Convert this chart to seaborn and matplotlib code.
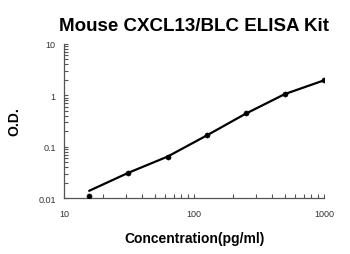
import matplotlib
matplotlib.use("Agg")
import matplotlib.pyplot as plt
from matplotlib.ticker import LogLocator, NullFormatter, FixedLocator, FixedFormatter
import seaborn as sns
import pandas as pd

concentration = [15.6, 31.25, 62.5, 125, 250, 500, 1000]
od = [0.011, 0.031, 0.063, 0.168, 0.45, 1.05, 1.98]
fit_od = [0.0138, 0.031, 0.064, 0.165, 0.44, 1.06, 1.96]

x_ticks = [10, 100, 1000]
x_tick_labels = ["10", "100", "1000"]
y_ticks = [0.01, 0.1, 1, 10]
y_tick_labels = ["0.01", "0.1", "1", "10"]

title = "Mouse CXCL13/BLC ELISA Kit"
xlabel = "Concentration(pg/ml)"
ylabel = "O.D."

sns.set_style("white")
plt.rcParams['font.family'] = ['Liberation Sans', 'DejaVu Sans']

df = pd.DataFrame({"conc": concentration, "od": od, "fit": fit_od})

fig = plt.figure(figsize=(3.5, 2.55), dpi=100)
ax = fig.add_axes([0.183, 0.2196, 0.743, 0.604])

sns.lineplot(data=df, x="conc", y="fit", ax=ax, color="black", linewidth=1.6)
sns.scatterplot(data=df, x="conc", y="od", ax=ax, color="black", s=14, edgecolor="black", zorder=3)

ax.set_xscale("log")
ax.set_yscale("log")
ax.set_xlim(10, 1000)
ax.set_ylim(0.01, 10)

ax.xaxis.set_major_locator(FixedLocator(x_ticks))
ax.xaxis.set_major_formatter(FixedFormatter(x_tick_labels))
ax.yaxis.set_major_locator(FixedLocator(y_ticks))
ax.yaxis.set_major_formatter(FixedFormatter(y_tick_labels))
ax.xaxis.set_minor_locator(LogLocator(base=10, subs=range(2, 10)))
ax.yaxis.set_minor_locator(LogLocator(base=10, subs=range(2, 10)))
ax.xaxis.set_minor_formatter(NullFormatter())
ax.yaxis.set_minor_formatter(NullFormatter())

ax.tick_params(axis="both", which="both", direction="in", length=3, width=0.8, color="#555555",
               labelsize=6.5, labelcolor="#333333", bottom=True, left=True, top=False, right=False)
ax.tick_params(axis="x", which="major", pad=8)
ax.tick_params(axis="y", which="major", pad=6)

for s in ["top", "right"]:
    ax.spines[s].set_visible(False)
for s in ["left", "bottom"]:
    ax.spines[s].set_color("#555555")
    ax.spines[s].set_linewidth(0.9)

ax.set_xlabel(xlabel, fontsize=10, fontweight="bold", labelpad=9, color="black")
ax.set_ylabel(ylabel, fontsize=10, fontweight="bold", labelpad=12, color="black")
ax.set_title(title, fontsize=13.5, fontweight="bold", pad=10, color="black")

fig.savefig("out.png", dpi=100)
